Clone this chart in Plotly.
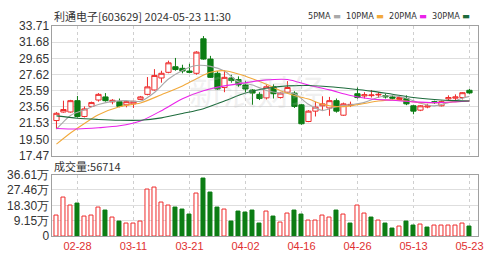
import plotly.graph_objects as go

W, H = 503, 262

dates = ["02-23","02-26","02-27","02-28","02-29","03-01","03-04","03-05","03-06","03-07",
         "03-08","03-11","03-12","03-13","03-14","03-15","03-18","03-19","03-20","03-21",
         "03-22","03-25","03-26","03-27","03-28","03-29","04-01","04-02","04-03","04-08",
         "04-09","04-10","04-11","04-12","04-15","04-16","04-17","04-18","04-19","04-22",
         "04-23","04-24","04-25","04-26","04-29","04-30","05-06","05-07","05-08","05-09",
         "05-10","05-13","05-14","05-15","05-16","05-17","05-20","05-21","05-22","05-23"]

opens = [21.86,22.93,22.93,24.35,22.37,23.63,24.43,24.82,24.20,24.23,
         23.83,23.95,24.51,25.14,25.69,27.19,27.90,28.60,28.40,28.06,
         27.78,32.10,29.56,27.78,26.00,27.19,26.99,26.32,25.69,25.14,
         24.70,26.08,24.74,25.41,25.30,23.83,21.74,23.04,23.71,23.44,
         24.35,22.53,23.75,25.22,24.94,24.98,25.06,24.98,24.82,24.50,
         24.62,23.71,23.16,23.55,24.23,23.71,24.58,24.66,24.74,25.65]
highs = [22.92,24.35,24.45,24.94,23.63,24.23,25.30,25.30,24.55,24.62,
         24.30,24.30,24.94,27.31,28.30,28.10,29.36,29.70,28.85,28.97,
         30.55,32.44,29.96,28.06,28.18,27.59,27.39,26.80,25.81,25.41,
         26.35,26.40,25.41,26.80,25.53,23.95,23.16,24.23,24.90,24.82,
         24.62,24.11,24.23,26.00,25.41,25.69,25.41,25.22,25.02,24.90,
         25.02,23.79,23.79,23.95,24.35,24.35,25.02,25.14,25.41,25.81]
lows = [20.79,22.85,22.85,22.25,22.25,23.55,24.23,24.23,23.90,23.52,
        23.52,23.44,24.43,25.02,25.61,26.60,27.78,28.10,27.78,27.78,
        27.60,29.48,27.19,25.69,25.41,26.60,26.08,25.41,23.83,24.43,
        24.50,24.62,24.62,25.30,23.44,21.34,21.66,22.37,23.04,22.45,
        22.85,22.45,23.55,24.62,24.62,24.74,24.70,24.62,24.50,24.35,
        23.79,22.65,23.04,23.40,23.95,23.63,24.35,24.35,24.50,25.22]
closes = [22.77,23.24,24.35,22.37,23.32,24.11,25.14,24.35,24.40,23.63,
          24.23,24.27,24.82,26.08,27.51,27.78,29.09,28.25,28.06,27.90,
          30.43,29.56,27.27,25.81,27.27,26.87,26.32,25.81,25.30,24.62,
          26.10,25.22,25.30,26.00,23.63,21.46,23.04,23.55,23.95,24.35,
          23.04,23.95,23.88,24.74,25.10,25.06,25.14,24.82,24.66,24.74,
          23.95,23.04,23.71,23.68,24.11,24.23,24.74,24.82,25.35,25.32]
# volume in 万手
volumes = [12.45,23.2,18.1,19.2,11.9,12.45,17.2,15.1,11.3,8.5,
           7.2,7.2,8.5,27.9,29.1,19.8,18.1,17.2,15.9,13.0,
           25.5,34.5,25.9,16.8,15.7,8.5,14.5,14.0,15.1,7.2,
           14.7,11.9,8.1,13.4,15.1,13.0,9.1,9.1,12.45,11.3,
           15.1,13.0,7.5,18.1,13.4,11.3,9.1,7.5,4.7,5.5,
           8.5,6.2,7.0,4.9,6.0,6.4,6.2,6.4,7.4,5.67]

ma5_idx = [0,1,2,3,4,6,8,10,12,14,16,18,20,22,24,26,28,30,32,34,36,38,40,42,44,46,48,50,52,54,56,58,59]
ma5_val = [20.8,21.7,22.5,22.9,23.21,23.86,24.26,24.35,24.27,25.38,27.06,28.14,28.75,28.64,28.07,26.71,
           26.31,25.63,25.31,25.25,23.89,23.13,23.59,23.83,24.14,24.78,24.96,24.66,24.02,23.70,24.09,24.65,24.89]
ma10_idx = [0,2,4,6,9,12,15,18,20,22,24,26,28,30,32,34,36,38,40,42,44,46,48,50,52,54,56,59]
ma10_val = [18.9,20.3,21.5,22.6,23.6,24.06,25.1,26.2,27.1,27.9,28.1,27.7,27.1,26.4,25.6,25.0,24.55,
            23.9,23.6,23.7,24.0,24.3,24.45,24.3,24.1,24.1,24.15,24.3]
ma20_idx = [0,3,6,9,12,15,18,21,24,27,30,33,36,39,42,45,48,51,54,57,59]
ma20_val = [20.87,20.8,20.95,21.2,21.8,23.1,24.6,25.6,26.2,26.6,26.95,27.0,26.3,25.7,25.0,24.55,
            24.4,24.2,24.1,24.2,24.3]
ma30_idx = [0,3,6,9,12,15,18,21,24,27,30,33,36,39,42,45,48,51,54,57,59]
ma30_val = [22.45,22.15,22.0,21.9,21.9,22.2,22.75,23.35,24.3,25.3,25.9,26.2,26.25,26.1,25.85,25.55,
            25.15,24.75,24.5,24.35,24.3]

price_ticks = [17.47,19.50,21.53,23.56,25.59,27.62,29.65,31.68,33.71]
vol_ticks = [0,9.15,18.30,27.46,36.61]
vol_tick_text = ["0","9.15万","18.30万","27.46万","36.61万"]
x_tick_dates = ["02-28","03-11","03-21","04-02","04-16","04-26","05-13","05-23"]

RED = "#ee2a2a"
GREEN = "#0c7d14"
ma_colors = {"5PMA": "#a9a9a9", "10PMA": "#f2a93b", "20PMA": "#ea22ea", "30PMA": "#1d6b3c"}

# volume colours: close vs previous close
vol_up = []
for i in range(len(closes)):
    ref = opens[0] if i == 0 else closes[i - 1]
    vol_up.append(closes[i] >= ref)

fig = go.Figure()

fig.add_trace(go.Candlestick(
    x=dates, open=opens, high=highs, low=lows, close=closes,
    increasing=dict(line=dict(color=RED, width=1), fillcolor="white"),
    decreasing=dict(line=dict(color=GREEN, width=1), fillcolor=GREEN),
    whiskerwidth=0, xaxis="x", yaxis="y", showlegend=False, hoverinfo="skip"))

for name, idx, vals in [("5PMA", ma5_idx, ma5_val), ("10PMA", ma10_idx, ma10_val),
                        ("20PMA", ma20_idx, ma20_val), ("30PMA", ma30_idx, ma30_val)]:
    fig.add_trace(go.Scatter(
        x=[dates[i] for i in idx], y=vals, mode="lines",
        line=dict(color=ma_colors[name], width=1.1, shape="spline", smoothing=0.8),
        xaxis="x", yaxis="y", showlegend=False, hoverinfo="skip"))

fig.add_trace(go.Bar(
    x=dates, y=volumes, width=0.68,
    marker=dict(color=["white" if u else GREEN for u in vol_up],
                line=dict(color=[RED if u else GREEN for u in vol_up], width=1)),
    xaxis="x2", yaxis="y2", showlegend=False, hoverinfo="skip"))

x0, x1 = 53 / W, 483 / W
tickfont = dict(family="Liberation Sans, Arial", size=12, color="#333333")
common_x = dict(domain=[x0, x1], type="category", range=[-0.57, 60.25],
                tickmode="array", tickvals=x_tick_dates, showgrid=True,
                gridcolor="#cfcfcf", griddash="dot", gridwidth=1,
                showline=True, mirror=True, linecolor="#a0a0a0", linewidth=1,
                ticks="", zeroline=False)

fig.update_layout(
    width=W, height=H, margin=dict(l=0, r=0, t=0, b=0),
    paper_bgcolor="white", plot_bgcolor="white", bargap=0,
    boxgap=0.25, boxgroupgap=0,
    xaxis=dict(**common_x, anchor="y", showticklabels=False, rangeslider=dict(visible=False)),
    xaxis2=dict(**common_x, anchor="y2", matches="x", showticklabels=True, ticktext=x_tick_dates,
                tickfont=dict(family="Liberation Sans, Arial", size=11, color="#e03030")),
    yaxis=dict(domain=[1 - 157 / H, 1 - 20 / H], range=[17.47, 33.71], tickmode="array",
               tickvals=price_ticks, ticktext=["%.2f" % v for v in price_ticks],
               tickfont=tickfont, showgrid=True, gridcolor="#dedede", zeroline=False,
               showline=True, mirror=True, linecolor="#a0a0a0", ticks=""),
    yaxis2=dict(domain=[1 - 242 / H, 1 - 177 / H], range=[0, 36.61], tickmode="array",
                tickvals=vol_ticks, ticktext=vol_tick_text,
                tickfont=tickfont, showgrid=True, gridcolor="#dedede", zeroline=False,
                showline=True, mirror=True, linecolor="#a0a0a0", ticks=""),
    font=dict(family="Noto Sans CJK SC"),
)

fig.add_annotation(xref="paper", yref="paper", x=53 / W, y=1 - 9 / H, xanchor="left", yanchor="middle",
                   text="利通电子[603629] 2024-05-23 11:30", showarrow=False,
                   font=dict(family="Noto Sans CJK SC", size=11, color="#333333"))
fig.add_annotation(xref="paper", yref="paper", x=53 / W, y=1 - 168 / H, xanchor="left", yanchor="middle",
                   text="成交量:56714", showarrow=False,
                   font=dict(family="Noto Sans CJK SC", size=11, color="#333333"))

legend_x = {"5PMA": 309, "10PMA": 347, "20PMA": 391, "30PMA": 434}
for name, lx in legend_x.items():
    fig.add_annotation(xref="paper", yref="paper", x=lx / W, y=1 - 9 / H, xanchor="left", yanchor="middle",
                       text=name + " <span style='color:%s'>▬</span>" % ma_colors[name], showarrow=False,
                       font=dict(family="DejaVu Sans Condensed", size=9, color="#333333"))

fig.add_annotation(xref="paper", yref="paper", x=260 / W, y=1 - 88 / H, xanchor="center", yanchor="middle",
                   text="新浪财经", showarrow=False,
                   font=dict(family="Noto Sans CJK SC", size=34, color="rgba(190,190,190,0.22)"))

fig.write_html("out.html")
